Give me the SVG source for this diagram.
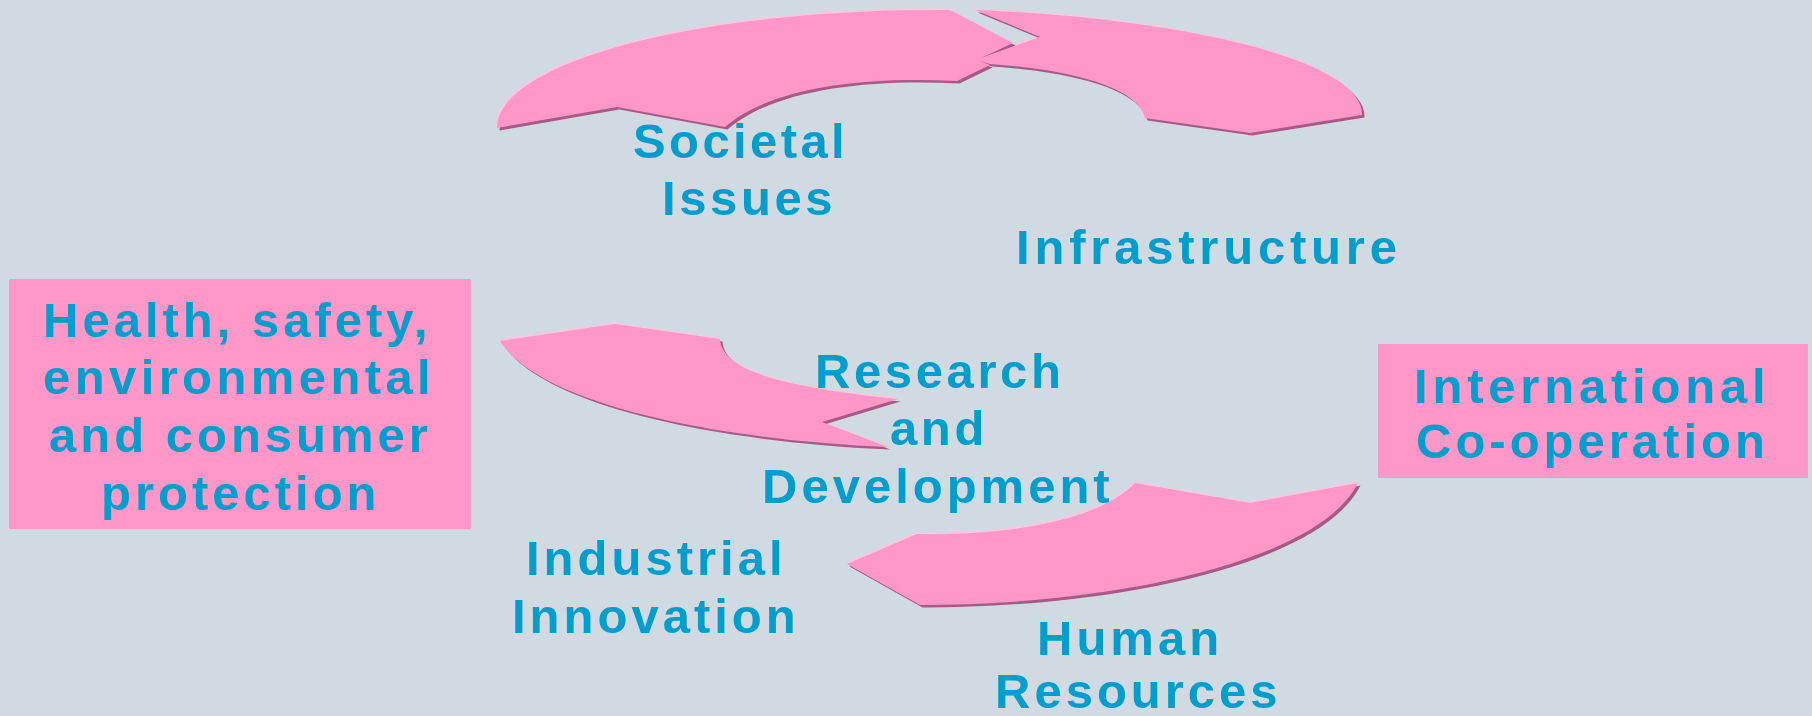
<svg xmlns="http://www.w3.org/2000/svg" width="1812" height="716" viewBox="0 0 1812 716">
<defs>
<style>
.lbl{font-family:"Liberation Sans",Arial,sans-serif;font-weight:bold;font-size:49px;fill:#009DCD;letter-spacing:4px}
.box{fill:#FF97C8}
.arr{fill:#FF97C8}
.hl{fill:#FFC4DF}
.sh{fill:#A65A85}
</style>
<path id="a1" d="M497,128 A440 118 0 0 1 950,10 L1013,43 L977,60 L990,65 L957,81 C860,76 770,88 725,127 L617,107 Z"/>
<path id="a2" d="M975,10 L1040,37 L975,60 L990,64 C1075,70 1138,88 1145,118 L1250,133 L1362,115 C1365,60 1180,18 975,10 Z"/>
<path id="a3" d="M500,341 L615,324 L720,339 C722,365 760,385 898,399 L822,422 L888,447 C720,440 540,405 500,341 Z"/>
<path id="a4" d="M847,564 L917,534 C1010,536 1100,520 1135,483 L1250,503 L1358,483 C1320,560 1120,605 920,605 Z"/>
</defs>
<rect width="1812" height="716" fill="#CFDAE2"/>
<g id="connectors">
<g transform="translate(-1.5,-1.5)" class="hl"><use href="#a1"/><use href="#a2"/><use href="#a3"/><use href="#a4"/></g>
<g transform="translate(2.5,2.5)" class="sh"><use href="#a1"/><use href="#a2"/><use href="#a3"/><use href="#a4"/></g>
<g class="arr"><use href="#a1"/><use href="#a2"/><use href="#a3"/><use href="#a4"/></g>
</g>
<g id="node-health">
<rect class="box" x="9" y="279" width="462" height="250"/>
<text class="lbl" x="43" y="337">Health, safety,</text>
<text class="lbl" x="43" y="394" style="letter-spacing:4.4px">environmental</text>
<text class="lbl" x="49" y="452">and consumer</text>
<text class="lbl" x="101" y="510">protection</text>
</g>
<g id="node-international">
<rect class="box" x="1378" y="344" width="430" height="134"/>
<text class="lbl" x="1414" y="403" style="letter-spacing:4.8px">International</text>
<text class="lbl" x="1416" y="458">Co-operation</text>
</g>
<g id="node-societal">
<text class="lbl" x="633" y="158" style="letter-spacing:3.4px">Societal</text>
<text class="lbl" x="662" y="215" style="letter-spacing:3.6px">Issues</text>
</g>
<g id="node-infrastructure">
<text class="lbl" x="1016" y="264" style="letter-spacing:4.8px">Infrastructure</text>
</g>
<g id="node-research">
<text class="lbl" x="815" y="388" style="letter-spacing:3.6px">Research</text>
<text class="lbl" x="890" y="445" style="letter-spacing:3.6px">and</text>
<text class="lbl" x="762" y="503">Development</text>
</g>
<g id="node-industrial">
<text class="lbl" x="526" y="575">Industrial</text>
<text class="lbl" x="512" y="633">Innovation</text>
</g>
<g id="node-human">
<text class="lbl" x="1037" y="655">Human</text>
<text class="lbl" x="995" y="708">Resources</text>
</g>
</svg>
